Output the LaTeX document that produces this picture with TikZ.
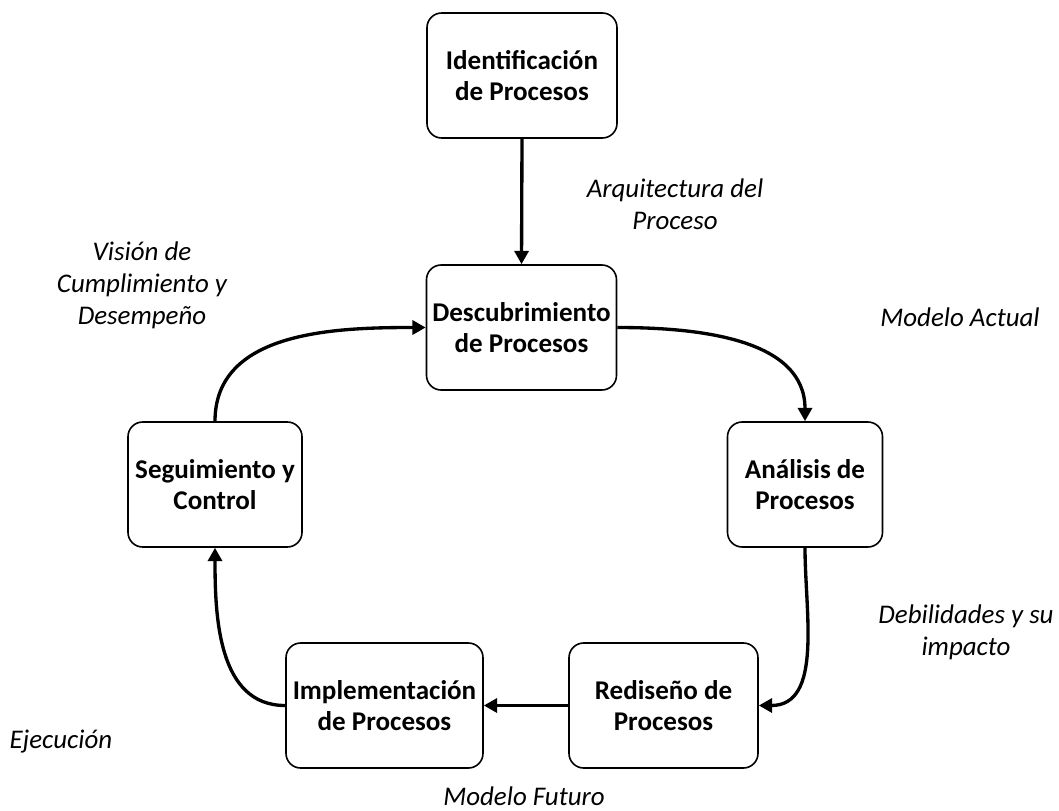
\documentclass[tikz,border=0pt]{standalone}
\usepackage{fontspec}
\setmainfont{Carlito}
\usetikzlibrary{arrows.meta}
\begin{document}
\begin{tikzpicture}[x=0.75pt,y=-0.75pt,
  stage/.style={draw, line width=1.2pt, rounded corners=11pt, inner sep=0pt,
    minimum height=93.75pt, align=center,
    font=\fontsize{20.3}{23.5}\selectfont\bfseries},
  tag/.style={align=center, inner sep=0pt,
    font=\fontsize{20.2}{24}\selectfont\itshape},
  flow/.style={line width=2.5pt, -{Triangle[length=10pt,width=10.5pt]}}]
\useasboundingbox (0,0) rectangle (1059,810);

% process stages
\node[stage, minimum width=142.5pt]  (iden) at (522,75.5)    {Identificación\\de Procesos};
\node[stage, minimum width=142.5pt]  (desc) at (521.5,327.5) {Descubrimiento\\de Procesos};
\node[stage, minimum width=116.25pt] (anal) at (805,484.5)   {Análisis de\\Procesos};
\node[stage, minimum width=141.75pt] (redi) at (663.5,705.5) {Rediseño de\\Procesos};
\node[stage, minimum width=147.75pt] (impl) at (384.5,705.5) {Implementación\\de Procesos};
\node[stage, minimum width=130.5pt]  (segu) at (215,484.5)   {Seguimiento y\\Control};

% connectors
\draw[flow] (iden.south) -- (desc.north);
\draw[flow] (desc.east) to[out=0,in=90] (anal.north);
\draw[flow] (anal.south) to[out=-90,in=0] (redi.east);
\draw[flow] (redi.west) -- (impl.east);
\draw[flow] (impl.west) to[out=180,in=-90] (segu.south);
\draw[flow] (segu.north) to[out=90,in=180] (desc.west);

% outputs of each stage
\node[tag] (arq) at (675,204)   {Arquitectura del\\Proceso};
\node[tag] (act) at (960,317)   {Modelo Actual};
\node[tag] (deb) at (966,632)   {Debilidades y su\\impacto};
\node[tag] (fut) at (524,796)   {Modelo Futuro};
\node[tag] (eje) at (61,742)    {Ejecución};
\node[tag] (vis) at (142,285)   {Visión de\\Cumplimiento y\\Desempeño};
\end{tikzpicture}
\end{document}
